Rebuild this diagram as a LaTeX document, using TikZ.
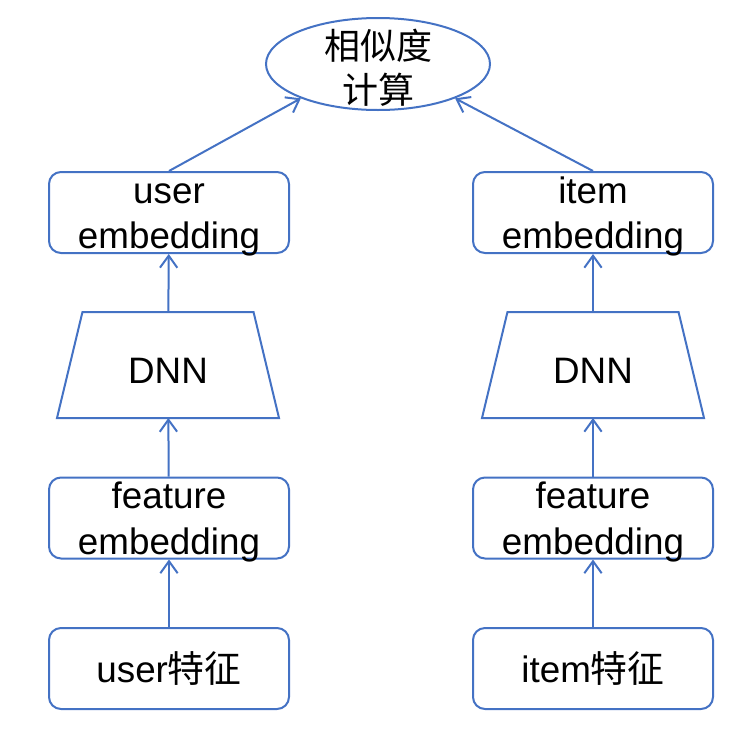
\documentclass[tikz,border=0pt]{standalone}
\usepackage{fontspec}
\setmainfont{Liberation Sans}
\newfontfamily\cjk{Noto Sans CJK SC}
\usetikzlibrary{arrows.meta}
\usetikzlibrary{shapes.geometric}
\definecolor{lineblue}{RGB}{68,114,196}
\newcommand{\fullline}{\vphantom{d}}
\newcommand{\nodepth}[1]{\raisebox{0pt}[\height][0pt]{#1}}
\tikzset{
  box/.style={draw=lineblue, line width=1.5pt, rounded corners=9pt, minimum width=180pt, minimum height=60.75pt, inner sep=0pt, align=center, font=\fontsize{27.6pt}{34pt}\selectfont},
  dnnbox/.style={minimum width=166.5pt, minimum height=79.5pt, inner sep=0pt, outer sep=0pt, text height=27.4pt, text depth=0pt, font=\fontsize{27.6pt}{34pt}\selectfont},
  dnnshape/.style={draw=lineblue, line width=1.5pt},
  simbox/.style={draw=lineblue, line width=1.5pt, ellipse, minimum width=168pt, minimum height=69pt, inner sep=0pt},
  simtext/.style={align=center, inner sep=0pt, font=\fontsize{27pt}{33pt}\selectfont},
  link/.style={draw=lineblue, line width=1.5pt, -{Straight Barb[length=9pt,width=13pt]}}
}

\begin{document}
\begin{tikzpicture}[x=0.75pt,y=0.75pt,yscale=-1,xscale=1]
\useasboundingbox (0,0) rectangle (755,750);

%Shape: Ellipse
\node [simbox] (sim) at (378,64) {};
\node [simtext] (simlabel) at (378,68) {{\cjk 相似度}\\{\cjk 计算}};

%Left tower
\node [box] (uemb) at (169,212.5) {\fullline user\\\nodepth{embedding}};
\node [dnnbox] (udnn) at (168,365) {DNN};
\node [box] (ufeat) at (169,518) {\fullline feature\\\nodepth{embedding}};
\node [box] (uin) at (169,668.5) {user{\cjk 特征}};

%Right tower
\node [box] (iemb) at (593,212.5) {\fullline item\\\nodepth{embedding}};
\node [dnnbox] (idnn) at (593,365) {DNN};
\node [box] (ifeat) at (593,518) {\fullline feature\\\nodepth{embedding}};
\node [box] (iin) at (593,668.5) {item{\cjk 特征}};

%Shape: Trapezoid
\foreach \t in {udnn,idnn}
  \draw [dnnshape] (\t.south west) -- (\t.south east) -- ([xshift=-19.1pt]\t.north east) -- ([xshift=19.1pt]\t.north west) -- cycle;

%Straight Lines
\draw [link] (uin) -- (ufeat);
\draw [link] (ufeat) -- (udnn);
\draw [link] (udnn) -- (uemb);
\draw [link] (uemb.north) -- (sim.204);
\draw [link] (iin) -- (ifeat);
\draw [link] (ifeat) -- (idnn);
\draw [link] (idnn) -- (iemb);
\draw [link] (iemb.north) -- (sim.-24);

\end{tikzpicture}
\end{document}
